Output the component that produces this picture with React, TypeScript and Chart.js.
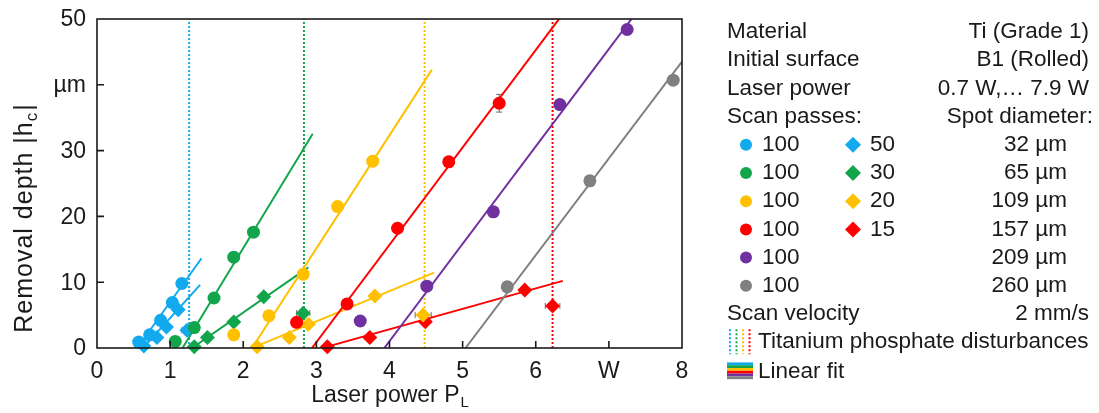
import React, { useEffect, useRef } from "react";
import { Chart, registerables } from "chart.js";
Chart.register(...registerables);

const FONT = '"Liberation Sans", Arial, Helvetica, sans-serif';

// ---------- axis ticks ----------
const xTickValues = [0, 1, 2, 3, 4, 5, 6, 7, 8];
const xTickLabels = ["0", "1", "2", "3", "4", "5", "6", "W", "8"];
const yTickValues = [0, 10, 20, 30, 40, 50];
const yTickLabels = ["0", "10", "20", "30", "µm", "50"];

// ---------- colours per spot diameter ----------
const seriesColors = ["#12A9EE", "#13A54B", "#FFC000", "#FF0000", "#7030A0", "#808080"];
const spotDiameters = ["32 µm", "65 µm", "109 µm", "157 µm", "209 µm", "260 µm"];
const circlePasses = ["100", "100", "100", "100", "100", "100"];
const diamondPasses = ["50", "30", "20", "15"];

// ---------- measured points: 100 scan passes (circles) ----------
const blue100X = [0.57, 0.72, 0.87, 1.03, 1.16];
const blue100Y = [0.9, 2.0, 4.2, 6.9, 9.8];
const green100X = [1.07, 1.33, 1.6, 1.87, 2.14];
const green100Y = [1.0, 3.1, 7.6, 13.8, 17.6];
const yellow100X = [1.87, 2.35, 2.82, 3.29, 3.77];
const yellow100Y = [2.0, 4.9, 11.2, 21.5, 28.4];
const yellow100XErr = [0.05, 0, 0, 0, 0];
const red100X = [2.73, 3.42, 4.11, 4.81, 5.5];
const red100Y = [3.9, 6.7, 18.2, 28.3, 37.2];
const red100YErr = [0, 0, 0, 0, 1.35];
const purple100X = [3.6, 4.51, 5.42, 6.33, 7.25];
const purple100Y = [4.1, 9.4, 20.7, 37.0, 48.4];
const gray100X = [5.61, 6.74, 7.88];
const gray100Y = [9.3, 25.4, 40.7];

// ---------- measured points: fewer passes (diamonds) ----------
const blue50X = [0.64, 0.82, 0.95, 1.11, 1.23];
const blue50Y = [0.3, 1.6, 3.2, 5.8, 2.7];
const blue50XErr = [0, 0, 0, 0, 0.07];
const green30X = [1.33, 1.51, 1.87, 2.28, 2.82];
const green30Y = [0.2, 1.6, 3.95, 7.8, 5.3];
const green30XErr = [0, 0, 0, 0, 0.09];
const yellow20X = [2.19, 2.63, 2.89, 3.8, 4.46];
const yellow20Y = [0.2, 1.6, 3.6, 7.9, 5.0];
const yellow20XErr = [0, 0, 0, 0, 0.11];
const red15X = [3.15, 3.73, 4.49, 5.85, 6.23];
const red15Y = [0.2, 1.6, 4.0, 8.8, 6.4];
const red15XErr = [0, 0, 0, 0, 0.1];

// ---------- linear fits: y = slope * (x - x0), drawn from start to end ----------
const fitColorIndex = [0, 1, 2, 3, 4, 5, 0, 1, 2, 3];
const fitX0 = [0.55, 1.17, 2.12, 2.94, 3.93, 5.04, 0.63, 1.3, 2.12, 3.08];
const fitSlope = [15.5, 18.3, 17.2, 14.8, 14.8, 14.7, 12.3, 7.7, 4.6, 3.1];
const fitStart = [0.57, 1.17, 2.12, 2.94, 3.93, 5.04, 0.63, 1.3, 2.15, 3.1];
const fitEnd = [1.43, 2.95, 4.58, 6.5, 7.5, 8.0, 1.41, 2.89, 4.61, 6.37];

// ---------- titanium phosphate disturbance lines ----------
const disturbanceX = [1.26, 2.83, 4.48, 6.23];
const disturbanceColorIndex = [0, 1, 2, 3];

// ---------- legend text ----------
const infoLabels = ["Material", "Initial surface", "Laser power", "Scan passes:"];
const infoValues = ["Ti (Grade 1)", "B1 (Rolled)", "0.7 W,… 7.9 W", "Spot diameter:"];
const velocityLabel = "Scan velocity";
const velocityValue = "2 mm/s";
const disturbanceLabel = "Titanium phosphate disturbances";
const fitLabel = "Linear fit";

const circleSeries = [
  { x: blue100X, y: blue100Y },
  { x: green100X, y: green100Y },
  { x: yellow100X, y: yellow100Y, xErr: yellow100XErr },
  { x: red100X, y: red100Y, yErr: red100YErr },
  { x: purple100X, y: purple100Y },
  { x: gray100X, y: gray100Y },
];
const diamondSeries = [
  { x: blue50X, y: blue50Y, xErr: blue50XErr },
  { x: green30X, y: green30Y, xErr: green30XErr },
  { x: yellow20X, y: yellow20Y, xErr: yellow20XErr },
  { x: red15X, y: red15Y, xErr: red15XErr },
];

// Layout constants
const W = 1099;
const H = 413;
const AREA_LEFT = 97;
const AREA_RIGHT = 682;
const AREA_TOP = 19;
const AREA_BOTTOM = 348;

const decorPlugin = {
  id: "decor",
  beforeDatasetsDraw(chart: any) {
    const { ctx, scales } = chart;
    const xs = scales.x;
    const ys = scales.y;
    ctx.save();
    ctx.strokeStyle = "#6b6b6b";
    ctx.lineWidth = 1;
    chart.data.datasets.forEach((ds: any) => {
      if (!ds.xErr && !ds.yErr) return;
      ds.data.forEach((p: any, i: number) => {
        const px = xs.getPixelForValue(p.x);
        const py = ys.getPixelForValue(p.y);
        const xe = ds.xErr ? ds.xErr[i] : 0;
        const ye = ds.yErr ? ds.yErr[i] : 0;
        if (xe) {
          const a = xs.getPixelForValue(p.x - xe);
          const b = xs.getPixelForValue(p.x + xe);
          ctx.beginPath();
          ctx.moveTo(a, py);
          ctx.lineTo(b, py);
          ctx.moveTo(a, py - 3);
          ctx.lineTo(a, py + 3);
          ctx.moveTo(b, py - 3);
          ctx.lineTo(b, py + 3);
          ctx.stroke();
        }
        if (ye) {
          const a = ys.getPixelForValue(p.y - ye);
          const b = ys.getPixelForValue(p.y + ye);
          ctx.beginPath();
          ctx.moveTo(px, a);
          ctx.lineTo(px, b);
          ctx.moveTo(px - 3, a);
          ctx.lineTo(px + 3, a);
          ctx.moveTo(px - 3, b);
          ctx.lineTo(px + 3, b);
          ctx.stroke();
        }
      });
    });
    ctx.restore();
  },
  afterDraw(chart: any) {
    const { ctx, chartArea, scales } = chart;
    const xs = scales.x;
    const ys = scales.y;
    ctx.save();
    // frame
    ctx.strokeStyle = "#1a1a1a";
    ctx.lineWidth = 1.6;
    ctx.strokeRect(chartArea.left, chartArea.top, chartArea.right - chartArea.left, chartArea.bottom - chartArea.top);
    // inward ticks
    ctx.beginPath();
    yTickValues.forEach((v) => {
      if (v === 0 || v === 50) return;
      const py = ys.getPixelForValue(v);
      ctx.moveTo(chartArea.left, py);
      ctx.lineTo(chartArea.left + 7, py);
    });
    xTickValues.forEach((v) => {
      if (v === 0 || v === 8) return;
      const px = xs.getPixelForValue(v);
      ctx.moveTo(px, chartArea.bottom);
      ctx.lineTo(px, chartArea.bottom - 7);
    });
    ctx.stroke();

    ctx.fillStyle = "#1a1a1a";
    const tickFont = "23px " + FONT;
    const big = "22.5px " + FONT;
    const small = "15px " + FONT;

    // tick labels
    ctx.font = tickFont;
    ctx.textBaseline = "middle";
    ctx.textAlign = "right";
    yTickValues.forEach((v, i) => {
      ctx.fillText(yTickLabels[i], chartArea.left - 11, ys.getPixelForValue(v) + 1);
    });
    ctx.textAlign = "center";
    xTickValues.forEach((v, i) => {
      ctx.fillText(xTickLabels[i], xs.getPixelForValue(v), 372);
    });

    // x axis title with subscript
    const xTitleFont = "23px " + FONT;
    ctx.font = xTitleFont;
    const xMain = "Laser power P";
    const xMainW = ctx.measureText(xMain).width;
    ctx.font = small;
    const xSubW = ctx.measureText("L").width;
    const xStart = (chartArea.left + chartArea.right) / 2 - (xMainW + xSubW) / 2;
    ctx.textBaseline = "middle";
    ctx.textAlign = "left";
    ctx.font = xTitleFont;
    ctx.fillText(xMain, xStart, 396);
    ctx.font = small;
    ctx.fillText("L", xStart + xMainW + 1, 403);

    // y axis title with subscript (rotated)
    ctx.save();
    ctx.translate(25, 218);
    ctx.rotate(-Math.PI / 2);
    (ctx as any).letterSpacing = "1px";
    const yFont = "25px " + FONT;
    const ySmall = "17px " + FONT;
    ctx.font = yFont;
    const yMain = "Removal depth |h";
    const yMainW = ctx.measureText(yMain).width;
    ctx.font = ySmall;
    const ySubW = ctx.measureText("c").width;
    ctx.font = yFont;
    const yEndW = ctx.measureText("|").width;
    const total = yMainW + ySubW + yEndW + 1;
    let cx = -total / 2;
    ctx.font = yFont;
    ctx.fillText(yMain, cx, 0);
    cx += yMainW;
    ctx.font = ySmall;
    ctx.fillText("c", cx, 7);
    cx += ySubW + 1;
    ctx.font = yFont;
    ctx.fillText("|", cx, 0);
    (ctx as any).letterSpacing = "0px";
    ctx.restore();

    // ---------- legend panel ----------
    const LX = 727;
    const RX = 1089;
    const row = (i: number) => 32 + i * 28.2;
    ctx.font = big;
    ctx.textBaseline = "middle";
    infoLabels.forEach((t, i) => {
      ctx.textAlign = "left";
      ctx.fillText(t, LX, row(i));
      ctx.textAlign = "right";
      ctx.fillText(infoValues[i], i === 3 ? RX + 4 : RX, row(i));
    });
    circlePasses.forEach((t, i) => {
      const y = row(4 + i);
      ctx.fillStyle = seriesColors[i];
      ctx.beginPath();
      ctx.arc(746, y, 6, 0, Math.PI * 2);
      ctx.fill();
      ctx.fillStyle = "#1a1a1a";
      ctx.textAlign = "left";
      ctx.fillText(t, 762, y);
      ctx.textAlign = "right";
      ctx.fillText(spotDiameters[i], 1067, y);
    });
    diamondPasses.forEach((t, i) => {
      const y = row(4 + i);
      ctx.fillStyle = seriesColors[i];
      ctx.beginPath();
      ctx.moveTo(853 - 8, y);
      ctx.lineTo(853, y - 8);
      ctx.lineTo(853 + 8, y);
      ctx.lineTo(853, y + 8);
      ctx.closePath();
      ctx.fill();
      ctx.fillStyle = "#1a1a1a";
      ctx.textAlign = "left";
      ctx.fillText(t, 870, y);
    });
    ctx.textAlign = "left";
    ctx.fillText(velocityLabel, LX, row(10));
    ctx.textAlign = "right";
    ctx.fillText(velocityValue, RX, row(10));

    // disturbance icon
    const dy = row(11);
    ctx.lineWidth = 2;
    ctx.setLineDash([2, 2]);
    disturbanceColorIndex.forEach((ci, k) => {
      ctx.strokeStyle = seriesColors[ci];
      ctx.beginPath();
      const x = 730 + k * 6.5;
      ctx.moveTo(x, dy - 13);
      ctx.lineTo(x, dy + 12);
      ctx.stroke();
    });
    ctx.setLineDash([]);
    ctx.textAlign = "left";
    ctx.fillText(disturbanceLabel, 758, dy);

    // linear fit icon
    const fy = row(12);
    seriesColors.forEach((c, k) => {
      ctx.fillStyle = c;
      ctx.fillRect(727, fy - 8 + k * 2.8, 26, 2.8);
    });
    ctx.fillStyle = "#1a1a1a";
    ctx.fillText(fitLabel, 758, fy + 1);

    ctx.restore();
  },
};

export default function App() {
  const ref = useRef<HTMLCanvasElement>(null);
  useEffect(() => {
    document.body.style.margin = "0";
    const datasets: any[] = [];
    circleSeries.forEach((s, i) => {
      datasets.push({
        label: "c" + i,
        data: s.x.map((x, k) => ({ x, y: s.y[k] })),
        xErr: (s as any).xErr,
        yErr: (s as any).yErr,
        pointStyle: "circle",
        pointRadius: 6.5,
        pointBackgroundColor: seriesColors[i],
        pointBorderWidth: 0,
        showLine: false,
        clip: false,
        order: 0,
      });
    });
    diamondSeries.forEach((s, i) => {
      datasets.push({
        label: "d" + i,
        data: s.x.map((x, k) => ({ x, y: s.y[k] })),
        xErr: (s as any).xErr,
        pointStyle: "rectRot",
        pointRadius: 7.5,
        pointBackgroundColor: seriesColors[i],
        pointBorderWidth: 0,
        showLine: false,
        clip: false,
        order: 0,
      });
    });
    fitX0.forEach((x0, i) => {
      const a = fitStart[i];
      const b = fitEnd[i];
      datasets.push({
        label: "fit" + i,
        data: [
          { x: a, y: fitSlope[i] * (a - x0) },
          { x: b, y: fitSlope[i] * (b - x0) },
        ],
        showLine: true,
        borderColor: seriesColors[fitColorIndex[i]],
        borderWidth: 2,
        pointRadius: 0,
        order: 1,
      });
    });
    disturbanceX.forEach((x, i) => {
      datasets.push({
        label: "dist" + i,
        data: [
          { x, y: 0 },
          { x, y: 50 },
        ],
        showLine: true,
        borderColor: seriesColors[disturbanceColorIndex[i]],
        borderWidth: 2,
        borderDash: [2, 2],
        pointRadius: 0,
        order: 2,
      });
    });

    const chart = new Chart(ref.current as HTMLCanvasElement, {
      type: "scatter",
      data: { datasets },
      options: {
        animation: false,
        responsive: false,
        devicePixelRatio: 1,
        layout: { padding: { left: 0, top: AREA_TOP, right: W - AREA_RIGHT, bottom: 0 } },
        plugins: { legend: { display: false }, tooltip: { enabled: false } },
        scales: {
          x: {
            type: "linear",
            min: 0,
            max: 8,
            afterBuildTicks: (s: any) => {
              s.ticks = xTickValues.map((v) => ({ value: v }));
            },
            ticks: { display: false },
            grid: { display: false },
            border: { display: false },
            afterFit: (s: any) => {
              s.height = H - AREA_BOTTOM;
            },
          },
          y: {
            type: "linear",
            min: 0,
            max: 50,
            afterBuildTicks: (s: any) => {
              s.ticks = yTickValues.map((v) => ({ value: v }));
            },
            ticks: { display: false },
            grid: { display: false },
            border: { display: false },
            afterFit: (s: any) => {
              s.width = AREA_LEFT;
            },
          },
        },
      } as any,
      plugins: [decorPlugin],
    });
    return () => chart.destroy();
  }, []);
  return (
    <div style={{ position: "fixed", left: 0, top: 0, width: W, height: H, background: "#fff" }}>
      <canvas ref={ref} width={W} height={H} style={{ width: W, height: H, display: "block" }} />
    </div>
  );
}
